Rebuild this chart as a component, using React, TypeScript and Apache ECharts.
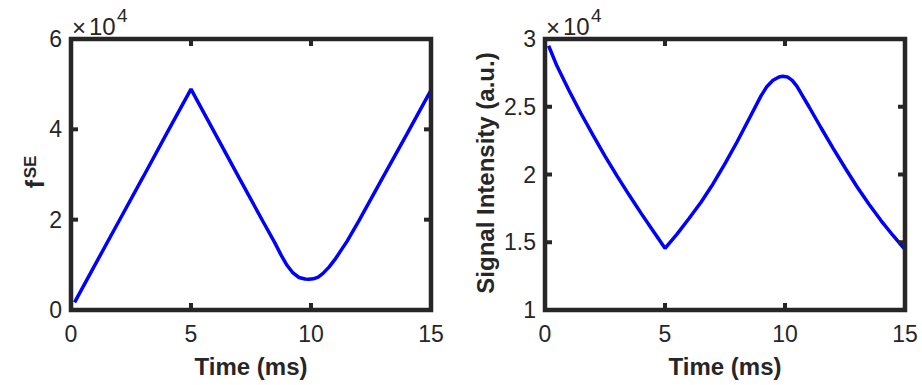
import React, { useEffect, useRef } from "react";
import * as echarts from "echarts";

// Left panel: f^SE vs time
const timeLeft = [0.15, 1, 2, 3, 4, 5, 6, 7, 8, 8.5, 8.75, 9, 9.25, 9.5, 9.75, 9.9, 10.1, 10.3, 10.5, 10.75, 11, 11.25, 11.5, 12, 13, 14, 15];
const fSE = [1700, 10000, 19700, 29400, 39200, 48900, 39100, 29300, 19600, 14800, 12200, 9900, 8200, 7200, 6850, 6800, 6900, 7300, 8100, 9500, 11200, 13200, 15200, 19800, 29400, 39000, 48700];

// Right panel: signal intensity vs time
const timeRight = [0.15, 0.5, 1, 1.5, 2, 2.5, 3, 3.5, 4, 4.5, 5, 5.5, 6, 6.5, 7, 7.5, 8, 8.5, 9, 9.25, 9.5, 9.75, 9.9, 10.1, 10.3, 10.5, 10.75, 11, 11.5, 12, 12.5, 13, 13.5, 14, 14.5, 15];
const signal = [29500, 28000, 26200, 24500, 22900, 21350, 19900, 18500, 17150, 15850, 14550, 15600, 16750, 17950, 19300, 20800, 22400, 24100, 25800, 26500, 26950, 27200, 27250, 27200, 26950, 26500, 25750, 25000, 23450, 21950, 20500, 19100, 17800, 16600, 15500, 14450];

const xTicks = { min: 0, max: 15, interval: 5 };
const leftY = { min: 0, max: 60000, interval: 20000 };
const rightY = { min: 10000, max: 30000, interval: 5000 };

// interior tick marks (drawn inside the box on all four sides)
const xInnerTicks = [5, 10];
const leftYInnerTicks = [20000, 40000];
const rightYInnerTicks = [15000, 20000, 25000];

const xLabel = "Time (ms)";
const rightYLabel = "Signal Intensity (a.u.)";

const FONT = "Liberation Sans, Arial, Helvetica, sans-serif";
const INK = "#262626";
const TL = 7;

export default function App() {
  const ref = useRef<HTMLDivElement>(null);
  useEffect(() => {
    if (!ref.current) return;
    const chart = echarts.init(ref.current, undefined, { renderer: "svg" });
    const grids = [
      { left: 71, top: 39, width: 360, height: 271 },
      { left: 545, top: 39, width: 360, height: 271 },
    ];
    const gridOpt = grids.map((g) => ({ ...g, show: false, containLabel: false }));
    const line = { show: false, onZero: false };
    const tick = { show: false };
    const mkX = (gi: number) => ({
      type: "value",
      gridIndex: gi,
      position: "bottom",
      ...xTicks,
      axisLine: line,
      axisTick: tick,
      splitLine: { show: false },
      axisLabel: { margin: 12, fontSize: 23, fontFamily: FONT, color: INK },
    });
    const mkY = (gi: number, rng: any) => ({
      type: "value",
      gridIndex: gi,
      position: "left",
      ...rng,
      axisLine: line,
      axisTick: tick,
      splitLine: { show: false },
      axisLabel: {
        margin: 9,
        fontSize: 23,
        fontFamily: FONT,
        color: INK,
        formatter: (v: number) => String(v / 10000),
      },
    });
    const textStyle = (s: any) => ({ fontFamily: FONT, fill: INK, ...s });
    const exp = (x0: number) => [
      { type: "text", x: x0, y: 27, style: textStyle({ text: "×", fontSize: 24, textAlign: "left", textVerticalAlign: "middle" }) },
      { type: "text", x: x0 + 17, y: 26, style: textStyle({ text: "10", fontSize: 24, textAlign: "left", textVerticalAlign: "middle" }) },
      { type: "text", x: x0 + 45, y: 15, style: textStyle({ text: "4", fontSize: 19, textAlign: "left", textVerticalAlign: "middle" }) },
    ];
    const frames = grids.map((g) => ({
      type: "rect",
      shape: { x: g.left, y: g.top, width: g.width, height: g.height },
      style: { fill: "none", stroke: INK, lineWidth: 4.5 },
      z: 10,
      silent: true,
    }));
    const tickStyle = { fill: INK, stroke: null };
    // x ticks: bottom and top edges (small filled rects)
    const xTickSeries = (gi: number, yr: any) => ({
      type: "custom",
      xAxisIndex: gi,
      yAxisIndex: gi,
      z: 12,
      silent: true,
      clip: false,
      data: xInnerTicks.map((v) => [v, yr.min]),
      renderItem: (_p: any, api: any) => {
        const b = api.coord([api.value(0), yr.min]);
        const t = api.coord([api.value(0), yr.max]);
        return {
          type: "group",
          children: [
            { type: "rect", shape: { x: b[0] - 2, y: b[1] - TL, width: 4, height: TL }, style: tickStyle },
            { type: "rect", shape: { x: t[0] - 2, y: t[1], width: 4, height: TL }, style: tickStyle },
          ],
        };
      },
    });
    const yTickSeries = (gi: number, ticks: number[]) => ({
      type: "custom",
      xAxisIndex: gi,
      yAxisIndex: gi,
      z: 12,
      silent: true,
      clip: false,
      data: ticks.map((v) => [xTicks.min, v]),
      renderItem: (_p: any, api: any) => {
        const l = api.coord([xTicks.min, api.value(1)]);
        const r = api.coord([xTicks.max, api.value(1)]);
        return {
          type: "group",
          children: [
            { type: "rect", shape: { x: l[0], y: l[1] - 2, width: TL, height: 4 }, style: tickStyle },
            { type: "rect", shape: { x: r[0] - TL, y: r[1] - 2, width: TL, height: 4 }, style: tickStyle },
          ],
        };
      },
    });
    chart.setOption({
      animation: false,
      grid: gridOpt,
      xAxis: [mkX(0), mkX(1)],
      yAxis: [mkY(0, leftY), mkY(1, rightY)],
      series: [
        {
          type: "line",
          xAxisIndex: 0,
          yAxisIndex: 0,
          data: timeLeft.map((t, i) => [t, fSE[i]]),
          showSymbol: false,
          lineStyle: { color: "#0000ff", width: 3.5 },
          z: 1,
        },
        {
          type: "line",
          xAxisIndex: 1,
          yAxisIndex: 1,
          data: timeRight.map((t, i) => [t, signal[i]]),
          showSymbol: false,
          lineStyle: { color: "#0000ff", width: 3.5 },
          z: 1,
        },
        xTickSeries(0, leftY),
        xTickSeries(1, rightY),
        yTickSeries(0, leftYInnerTicks),
        yTickSeries(1, rightYInnerTicks),
      ],
      graphic: [
        ...frames,
        { type: "text", x: 251, y: 366, style: textStyle({ text: xLabel, fontSize: 24, fontWeight: "bold", textAlign: "center", textVerticalAlign: "middle" }) },
        { type: "text", x: 725, y: 366, style: textStyle({ text: xLabel, fontSize: 24, fontWeight: "bold", textAlign: "center", textVerticalAlign: "middle" }) },
        { type: "text", x: 485, y: 173, rotation: Math.PI / 2, style: textStyle({ text: rightYLabel, fontSize: 24, fontWeight: "bold", textAlign: "center", textVerticalAlign: "middle" }) },
        { type: "text", x: 35, y: 184, rotation: Math.PI / 2, style: textStyle({ text: "f", fontSize: 25, fontWeight: "bold", textAlign: "center", textVerticalAlign: "middle" }) },
        { type: "text", x: 30, y: 167, rotation: Math.PI / 2, style: textStyle({ text: "SE", fontSize: 17, fontWeight: "bold", textAlign: "center", textVerticalAlign: "middle" }) },
        ...exp(72),
        ...exp(546),
      ],
    });
    return () => chart.dispose();
  }, []);
  return <div ref={ref} style={{ position: "absolute", left: 0, top: 0, width: 922, height: 385 }} />;
}
